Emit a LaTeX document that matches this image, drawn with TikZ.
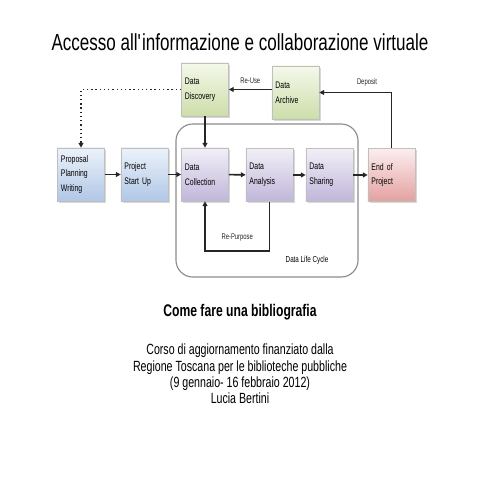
\documentclass[tikz,border=0pt]{standalone}
\usepackage{fontspec}
\setmainfont{Liberation Sans}[FakeStretch=0.72]
\usetikzlibrary{arrows.meta,shadows,positioning}
\definecolor{boxblueT}{RGB}{236,242,250}
\definecolor{boxblueB}{RGB}{176,199,230}
\definecolor{boxgreenT}{RGB}{244,248,234}
\definecolor{boxgreenB}{RGB}{205,222,170}
\definecolor{boxlilacT}{RGB}{242,239,247}
\definecolor{boxlilacB}{RGB}{192,182,218}
\definecolor{boxredT}{RGB}{252,238,238}
\definecolor{boxredB}{RGB}{228,160,160}

\begin{document}
\begin{tikzpicture}[x=0.025cm, y=-0.025cm,
  stepbox/.style={draw=black!25, line width=0.4pt, minimum width=1.175cm, minimum height=1.325cm,
    text width=1.0cm, align=left, inner xsep=2.5pt,
    font=\fontsize{6.8}{10.6}\selectfont,
    drop shadow={opacity=0.3, shadow xshift=1.2pt, shadow yshift=-1.2pt}},
  bluebox/.style={stepbox, top color=boxblueT, bottom color=boxblueB},
  greenbox/.style={stepbox, top color=boxgreenT, bottom color=boxgreenB},
  lilacbox/.style={stepbox, top color=boxlilacT, bottom color=boxlilacB},
  redbox/.style={stepbox, top color=boxredT, bottom color=boxredB},
  flow/.style={line width=1.1pt, black!85, -{Triangle[length=3.5pt,width=3.5pt]}},
  lbl/.style={font=\fontsize{5.8}{6}\selectfont, inner sep=1pt}]
  \useasboundingbox[fill=white] (0,0) rectangle (480,480);

  % title
  \node (title) at (240,42) {\addfontfeatures{FakeStretch=0.735}\fontsize{16.5}{19}\selectfont Accesso all\textquotesingle informazione e collaborazione virtuale};

  % life cycle frame
  \node[draw=black!45, line width=0.8pt, rounded corners=12pt,
        minimum width=4.55cm, minimum height=3.825cm] (cycle) at (267,200.5) {};
  \node[font=\fontsize{6.2}{7}\selectfont] (cyclelbl) at (307,260) {Data Life Cycle};

  % boxes
  \node[bluebox] (prop) at (81,174.5) {Proposal\\Planning\\Writing};
  \node[bluebox] (start) at (144.5,174.5) {Project\\Start Up};
  \node[lilacbox] (coll) at (205,174.5) {Data\\Collection};
  \node[lilacbox] (ana) at (269.5,175) {Data\\Analysis};
  \node[lilacbox] (share) at (329.5,175) {Data\\Sharing};
  \node[redbox] (endp) at (391.5,175) {End of\\Project};
  \node[greenbox] (disc) at (205,89.5) {Data\\Discovery};
  \node[greenbox] (arch) at (295.5,92.5) {Data\\Archive};

  % connectors
  \draw[flow] (prop) -- (start);
  \draw[flow] (start) -- (coll);
  \draw[flow] (coll) -- (ana);
  \draw[flow] (ana) -- (share);
  \draw[flow] (share) -- (endp);
  \draw[flow] (disc) -- (coll);
  \draw[flow] (endp.north) |- node[lbl, pos=0.67, above=3pt] (deplbl) {Deposit} (arch.east);
  \draw[flow] (arch.west |- disc.east) -- node[lbl, above=3pt] (reuselbl) {Re-Use} (disc.east);
  \draw[line width=1pt, black!85, dotted, -{Triangle[length=3.5pt,width=3.5pt]}] (disc.west) -| (prop.north);
  \draw[flow] (ana.south) -- ++(0,49) -| node[lbl, pos=0.25, above=5pt] (rplbl) {Re-Purpose} (coll.south);

  % bottom text
  \node[font=\fontsize{12}{14}\bfseries] (subtitle) at (240,312) {Come fare una bibliografia};
  \node[align=center, font=\fontsize{10.5}{11.6}\selectfont] (course) at (240,374)
    {Corso di aggiornamento finanziato dalla\\Regione Toscana per le biblioteche pubbliche\\(9 gennaio- 16 febbraio 2012)\\Lucia Bertini};
\end{tikzpicture}
\end{document}
